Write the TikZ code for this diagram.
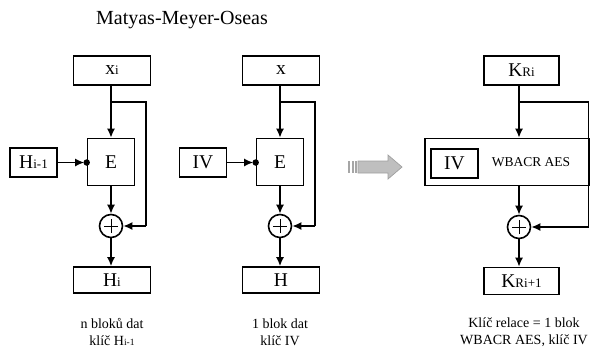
\documentclass[tikz,border=0pt]{standalone}
\usepackage{fontspec}
\setmainfont{Liberation Serif}
\usetikzlibrary{arrows.meta}
\newcommand{\bigf}{\fontsize{19.5}{22}\selectfont}
\newcommand{\smf}[1]{{\fontsize{13}{13}\selectfont #1}}
\newcommand{\tinyf}[1]{{\fontsize{9.5}{10}\selectfont #1}}
\begin{document}
\begin{tikzpicture}[x=1pt,y=-1pt,
  lw/.style={line width=1.6pt},
  box/.style={draw,lw,inner sep=0pt,font=\bigf},
  xorn/.style={draw,lw,circle,minimum size=23pt,inner sep=0pt},
  pl/.style={line width=0.9pt},
  arr/.style={lw,-{Latex[length=9pt,width=8pt]}},
  ln/.style={lw},
  dotn/.style={fill,circle,inner sep=0pt,minimum size=6.5pt},
  lab/.style={font=\fontsize{14}{16.5}\selectfont,align=center}]
\useasboundingbox (0,0) rectangle (596,351);

\node[font=\fontsize{20}{22}\selectfont] (title) at (182,20) {Matyas-Meyer-Oseas};

% ---------- left column ----------
\node[box,minimum width=77pt,minimum height=29pt] (x1) at (112,70.5) {x\smf{i}};
\node[box,minimum width=47pt,minimum height=47pt] (E1) at (111,162) {E};
\node[box,minimum width=47pt,minimum height=29pt] (h1) at (33.5,162.5) {H\smf{i-1}};
\node[xorn] (o1) at (111,226) {};
\node[box,minimum width=77pt,minimum height=26pt] (H1) at (112,280) {H\smf{i}};
\coordinate (b1) at (111,102);
\coordinate (r1t) at (146,102);
\coordinate (r1b) at (146,226);
\node[dotn] (d1) at (E1.west |- h1.east) {};
\draw[ln] (x1.south -| b1) -- (b1);
\draw[arr] (b1) -- (E1.north);
\draw[ln] (b1) -- (r1t) -- (r1b);
\draw[arr] (r1b) -- (o1.east);
\draw[arr] (E1.south) -- (o1.north);
\draw[arr] (o1.south) -- (H1.north -| o1);
\draw[arr,shorten >=2.5pt] (h1.east) -- (d1.center);
\draw[pl] ([yshift=-7pt]o1.center) -- ([yshift=7pt]o1.center) ([xshift=-7pt]o1.center) -- ([xshift=7pt]o1.center);

% ---------- middle column ----------
\node[box,minimum width=77pt,minimum height=29pt] (x2) at (281,70.5) {x};
\node[box,minimum width=47pt,minimum height=47pt] (E2) at (280,162) {E};
\node[box,minimum width=47pt,minimum height=29pt] (h2) at (203,162.5) {IV};
\node[xorn] (o2) at (280,226) {};
\node[box,minimum width=77pt,minimum height=26pt] (H2) at (281,280) {H};
\coordinate (b2) at (280,102);
\coordinate (r2t) at (315,102);
\coordinate (r2b) at (315,226);
\node[dotn] (d2) at (E2.west |- h2.east) {};
\draw[ln] (x2.south -| b2) -- (b2);
\draw[arr] (b2) -- (E2.north);
\draw[ln] (b2) -- (r2t) -- (r2b);
\draw[arr] (r2b) -- (o2.east);
\draw[arr] (E2.south) -- (o2.north);
\draw[arr] (o2.south) -- (H2.north -| o2);
\draw[arr,shorten >=2.5pt] (h2.east) -- (d2.center);
\draw[pl] ([yshift=-7pt]o2.center) -- ([yshift=7pt]o2.center) ([xshift=-7pt]o2.center) -- ([xshift=7pt]o2.center);

% ---------- gray arrow ----------
\fill[gray!50,draw=gray!75,line width=0.7pt] (358,161) -- (388,161) -- (388,155) -- (402,167) -- (388,179) -- (388,173) -- (358,173) -- cycle;
\foreach \sx in {348,351.5,355}
  \fill[gray!70] (\sx,161) rectangle ++(2,12);

% ---------- right column ----------
\node[box,minimum width=75pt,minimum height=29pt] (k1) at (521.5,70.5) {K\smf{Ri}};
\node[box,minimum width=164pt,minimum height=47pt] (W) at (507,162) {};
\node[box,minimum width=47pt,minimum height=29pt] (iv3) at (454.5,163.5) {IV};
\node[font=\fontsize{13.5}{15}\selectfont] (wt) at (531,162) {WBACR AES};
\node[xorn] (o3) at (519,227) {};
\node[box,minimum width=75pt,minimum height=27pt] (k2) at (521.5,281) {K\smf{Ri+1}};
\coordinate (b3) at (519,102);
\coordinate (r3t) at (588.5,102);
\coordinate (r3b) at (588.5,227);
\draw[ln] (k1.south -| b3) -- (b3);
\draw[arr] (b3) -- (W.north -| b3);
\draw[ln] (b3) -- (r3t) -- (r3b);
\draw[arr] (r3b) -- (o3.east);
\draw[arr] (W.south -| o3) -- (o3.north);
\draw[arr] (o3.south) -- (k2.north -| o3);
\draw[pl] ([yshift=-7pt]o3.center) -- ([yshift=7pt]o3.center) ([xshift=-7pt]o3.center) -- ([xshift=7pt]o3.center);

% ---------- captions ----------
\node[lab] (c1) at (112,332) {n bloků dat\\klíč H\tinyf{i-1}};
\node[lab] (c2) at (280,332) {1 blok dat\\klíč IV};
\node[lab] (c3) at (524,332) {Klíč relace = 1 blok\\WBACR AES, klíč IV};
\end{tikzpicture}
\end{document}
